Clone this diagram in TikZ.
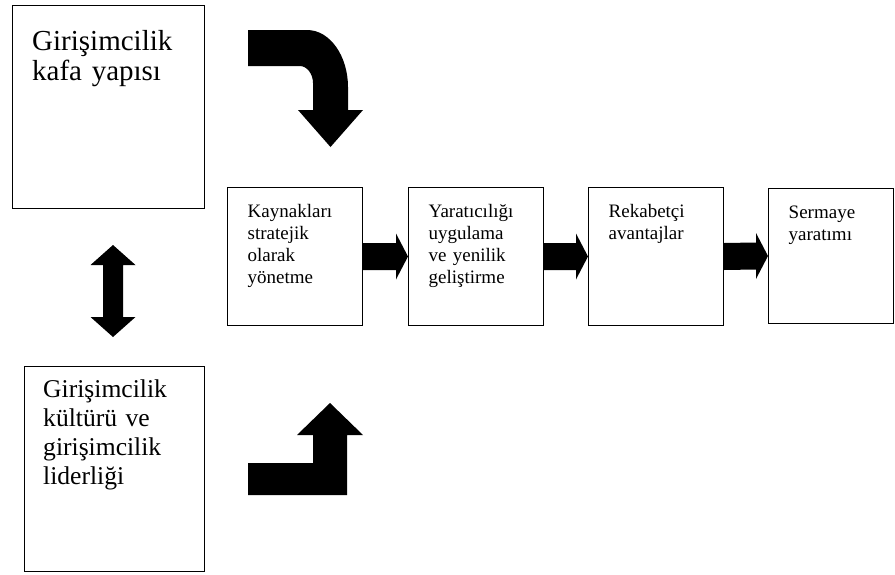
\documentclass[tikz,border=0pt]{standalone}
\usepackage{fontspec}
\setmainfont{Liberation Serif}
\usetikzlibrary{calc}

\begin{document}
\begin{tikzpicture}[x=1pt,y=-1pt,line join=miter,
	box/.style={draw,line width=1pt,inner sep=0pt,anchor=north west},
	txt/.style={inner sep=0pt,anchor=base west,align=left}]
	\useasboundingbox (0,0) rectangle (895,574);
	\def\kw{135}
	\def\kh{138}
	% left boxes
	\node[box,minimum width=192,minimum height=203] (g1) at (12,5) {};
	\node[box,minimum width=180,minimum height=205] (g2) at (24,366) {};
	\node[txt,text width=170,font=\fontsize{29}{30}\selectfont] (t1) at ($(g1.north west)+(20,45)$) {Girişimcilik\\kafa yapısı};
	\node[txt,text width=160,font=\fontsize{25.6}{29}\selectfont] (t2) at ($(g2.north west)+(19,31)$) {Girişimcilik\\kültürü ve\\girişimcilik\\liderliği};
	% row of boxes
	\node[box,minimum width=\kw,minimum height=\kh] (k1) at (227,187) {};
	\node[box,minimum width=\kw,minimum height=\kh] (k2) at (408,187) {};
	\node[box,minimum width=\kw,minimum height=\kh] (k3) at (588,187) {};
	\node[box,minimum width=125,minimum height=135] (k4) at (768,188) {};
	\foreach \n/\s in {k1/{Kaynakları\\stratejik\\olarak\\yönetme},k2/{Yaratıcılığı\\uygulama\\ve yenilik\\geliştirme},k3/{Rekabetçi\\avantajlar},k4/{Sermaye\\yaratımı}}
		\node[txt,text width=110,font=\fontsize{19}{22}\selectfont] (t-\n) at ($(\n.north west)+(20.5,30)$) {\s};
	% fat arrows between boxes
	\foreach \a/\b in {k1/k2,k2/k3,k3/k4}
		\fill ($(\a.east)+(0,-13.5)$) -- ($(\b.west)+(-12,-13.5)$) -- ($(\b.west)+(-12,-23)$) -- (\b.west)
		-- ($(\b.west)+(-12,23)$) -- ($(\b.west)+(-12,13.5)$) -- ($(\a.east)+(0,13.5)$) -- cycle;
	% double arrow
	\coordinate (up) at (113,245);
	\coordinate (dn) at (113,337);
	\fill (up) -- ++(22.5,20) -- ++(-12.5,0) -- ($(dn)+(10,-20)$) -- ++(12.5,0) -- (dn) -- ++(-22.5,-20)
	-- ++(12.5,0) -- ($(up)+(-10,20)$) -- ++(-12.5,0) -- cycle;
	% curved arrow
	\fill (248,30) -- (307,30) .. controls (330,30) and (348,56) .. (348,87) -- (348,110) -- (363,110) -- (330.5,147)
	-- (298,110) -- (313,110) -- (313,83) .. controls (313,74) and (307,66) .. (300,66) -- (248,66) -- cycle;
	% bent arrow
	\fill (248,463) -- (313,463) -- (313,435) -- (297,435) -- (330,403) -- (363,435) -- (347,435) -- (347,495)
	-- (248,495) -- cycle;
\end{tikzpicture}
\end{document}
